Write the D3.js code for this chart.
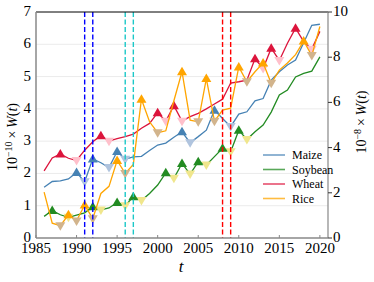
<!DOCTYPE html>
<html>
<head>
<meta charset="utf-8">
<script src="https://cdn.jsdelivr.net/npm/d3@7"></script>
<style>
  body { margin: 0; background: #fff; }
  svg text { font-family: "Liberation Serif", "DejaVu Serif", serif; }
</style>
</head>
<body>
<svg id="chart" width="374" height="282"></svg>
<script>
// years 1986..2020
const years = d3.range(1986, 2021);

const maize = [1.57, 1.75, 1.77, 1.83, 2.03, 1.74, 2.45, 2.33, 2.18, 2.68, 2.44, 2.51, 2.53, 2.71, 2.88,
  2.94, 3.12, 3.29, 2.95, 3.14, 3.34, 3.96, 3.70, 3.45, 3.84, 3.91, 4.25, 4.32, 4.89, 5.15,
  5.36, 5.51, 6.05, 6.59, 6.62];
const soybean = [0.67, 0.85, 0.72, 0.64, 0.71, 0.78, 0.97, 0.87, 0.93, 1.10, 1.00, 1.28, 1.16, 1.38, 1.64,
  2.02, 1.85, 2.31, 1.98, 2.36, 2.26, 2.52, 2.78, 2.67, 3.34, 3.05, 3.29, 3.50, 3.90, 4.43,
  4.58, 4.99, 5.10, 5.17, 5.61];
const wheat = [2.08, 2.48, 2.60, 2.47, 2.40, 2.72, 2.98, 3.17, 3.00, 3.08, 3.14, 3.22, 3.40, 3.55, 3.88,
  3.62, 4.10, 3.62, 3.76, 3.86, 4.00, 4.15, 4.30, 4.80, 4.84, 4.89, 5.55, 5.25, 5.88, 5.50,
  6.03, 6.50, 6.08, 5.85, 6.40];
const rice = [1.42, 0.46, 0.38, 0.72, 0.53, 1.02, 0.60, 1.38, 1.60, 2.40, 2.00, 2.28, 4.30, 3.60, 3.26,
  3.32, 4.25, 5.15, 3.65, 3.60, 4.94, 3.62, 3.96, 4.02, 5.30, 4.84, 5.15, 5.42, 4.79, 5.20,
  5.42, 5.68, 6.10, 5.65, 6.55];

// peak (up) / trough (down) years marked with triangles
const maizeUp = [1990, 1992, 1995, 2003, 2007];
const maizeDown = [1991, 1994, 1996, 2004, 2009];
const soybeanUp = [1987, 1992, 1995, 1997, 2001, 2003, 2005, 2008, 2010];
const soybeanDown = [1989, 1993, 1996, 1998, 2002, 2004, 2006, 2009, 2011];
const wheatUp = [1988, 1993, 2000, 2002, 2012, 2014, 2017];
const wheatDown = [1990, 1994, 2001, 2003, 2013, 2015, 2019];
const riceUp = [1989, 1991, 1995, 1998, 2003, 2006, 2010, 2013, 2018];
const riceDown = [1988, 1990, 1992, 1996, 2000, 2005, 2007, 2011, 2014, 2019];

const eventYears = [1991, 1992, 1996, 1997, 2008, 2009];
const eventColors = ['#0000ff', '#0000ff', '#1cc8c8', '#1cc8c8', '#ff0000', '#ff0000'];

const xTicks = [1985, 1990, 1995, 2000, 2005, 2010, 2015, 2020];
const yTicks = [0, 1, 2, 3, 4, 5, 6, 7];
const y2Ticks = [0, 2, 4, 6, 8, 10];

const series = [
  { name: 'Maize', values: maize, up: maizeUp, down: maizeDown, color: '#4682b4', upColor: '#4682b4', downColor: '#b0c4de' },
  { name: 'Soybean', values: soybean, up: soybeanUp, down: soybeanDown, color: '#228b22', upColor: '#228b22', downColor: '#f0e68c' },
  { name: 'Wheat', values: wheat, up: wheatUp, down: wheatDown, color: '#dc143c', upColor: '#dc143c', downColor: '#ffc0cb' },
  { name: 'Rice', values: rice, up: riceUp, down: riceDown, color: '#ffa500', upColor: '#ffa500', downColor: '#d2b48c' }
];

const svg = d3.select('#chart');
const L = 36, R = 328, T = 12, B = 238;

const x = d3.scaleLinear().domain([1985, 2021]).range([L, R]);
const y = d3.scaleLinear().domain([0, 7]).range([B, T]);
const y2 = d3.scaleLinear().domain([0, 10]).range([B, T]);

// grid
svg.append('g').selectAll('line').data(yTicks.slice(1, 7)).join('line')
  .attr('x1', L).attr('x2', R)
  .attr('y1', d => y(d)).attr('y2', d => y(d))
  .attr('stroke', '#ebebeb').attr('stroke-width', 1);

const line = d3.line().x((d, i) => x(years[i])).y(d => y(d));
const tri = (up) => up ? 'M0,-5L5,3.5L-5,3.5Z' : 'M0,5L5,-3.5L-5,-3.5Z';

series.forEach(s => {
  const g = svg.append('g');
  g.append('path').datum(s.values).attr('d', line)
    .attr('fill', 'none').attr('stroke', s.color).attr('stroke-width', 1.3);
  g.selectAll('path.dn').data(s.down).join('path').attr('class', 'dn')
    .attr('d', tri(false))
    .attr('transform', d => `translate(${x(d)},${y(s.values[years.indexOf(d)])})`)
    .attr('fill', s.downColor);
  g.selectAll('path.up').data(s.up).join('path').attr('class', 'up')
    .attr('d', tri(true))
    .attr('transform', d => `translate(${x(d)},${y(s.values[years.indexOf(d)])})`)
    .attr('fill', s.upColor);
});

// event lines
svg.append('g').selectAll('line').data(eventYears).join('line')
  .attr('x1', d => x(d)).attr('x2', d => x(d))
  .attr('y1', T).attr('y2', B)
  .attr('stroke', (d, i) => eventColors[i]).attr('stroke-width', 1.4)
  .attr('stroke-dasharray', '5,2.5');

// spines
svg.append('line').attr('x1', L).attr('x2', R).attr('y1', T).attr('y2', T).attr('stroke', '#000').attr('stroke-width', 1);
svg.append('line').attr('x1', L).attr('x2', L).attr('y1', T).attr('y2', B).attr('stroke', '#888').attr('stroke-width', 1.5);
svg.append('line').attr('x1', L).attr('x2', R).attr('y1', B).attr('y2', B).attr('stroke', '#888').attr('stroke-width', 1.5);
svg.append('line').attr('x1', R).attr('x2', R).attr('y1', T).attr('y2', B).attr('stroke', '#888').attr('stroke-width', 1.2);

// x ticks (inward)
const xg = svg.append('g');
xg.selectAll('line').data(xTicks).join('line')
  .attr('x1', d => x(d)).attr('x2', d => x(d)).attr('y1', B).attr('y2', B - 3)
  .attr('stroke', '#888');
xg.selectAll('text').data(xTicks).join('text')
  .attr('x', d => x(d)).attr('y', 253).attr('text-anchor', 'middle')
  .attr('font-size', 15).text(d => d);

// left ticks
svg.append('g').selectAll('text').data(yTicks).join('text')
  .attr('x', 31).attr('y', d => y(d) + 4).attr('text-anchor', 'end')
  .attr('font-size', 15).text(d => d);

// right ticks
const rg = svg.append('g');
rg.selectAll('line').data(y2Ticks).join('line')
  .attr('x1', R).attr('x2', R + 4).attr('y1', d => y2(d)).attr('y2', d => y2(d))
  .attr('stroke', '#333');
rg.selectAll('text').data(y2Ticks).join('text')
  .attr('x', R + 5).attr('y', d => y2(d) + 4)
  .attr('font-size', 15).text(d => d);

// axis labels
svg.append('text').attr('x', 181).attr('y', 272).attr('text-anchor', 'middle')
  .attr('font-size', 17).attr('font-style', 'italic').text('t');

function yLabel(xpos, ypos, exp) {
  const t = svg.append('text')
    .attr('transform', `translate(${xpos},${ypos}) rotate(-90)`)
    .attr('text-anchor', 'middle').attr('font-size', 14);
  t.append('tspan').text('10');
  t.append('tspan').attr('dy', -5).attr('font-size', 10).text('−' + exp);
  t.append('tspan').attr('dy', 5).text('\u2009×\u2009');
  t.append('tspan').attr('font-style', 'italic').text('W');
  t.append('tspan').text('(');
  t.append('tspan').attr('font-style', 'italic').text('t');
  t.append('tspan').text(')');
}
yLabel(17, 137, '10');
yLabel(366, 122, '8');

// legend
const lg = svg.append('g');
const legY = [155, 169.5, 184, 198.5];
series.forEach((s, i) => {
  lg.append('line').attr('x1', 263).attr('x2', 285).attr('y1', legY[i]).attr('y2', legY[i])
    .attr('stroke', s.color).attr('stroke-opacity', 0.75).attr('stroke-width', 1.6);
  lg.append('text').attr('x', 292).attr('y', legY[i] + 4).attr('font-size', 12).text(s.name);
});
</script>
</body>
</html>
